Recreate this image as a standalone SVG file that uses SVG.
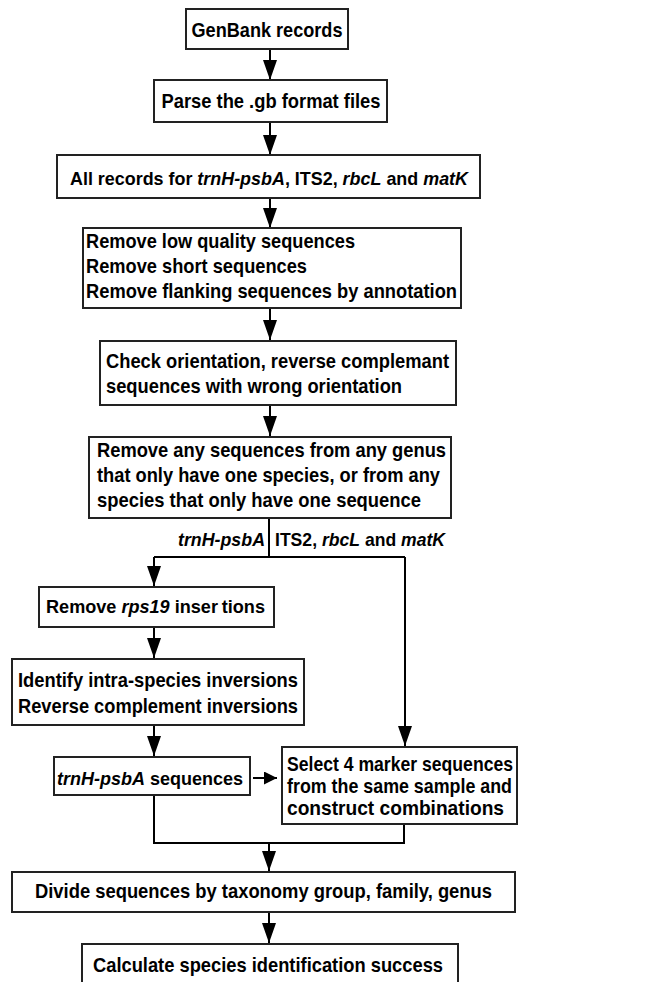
<svg xmlns="http://www.w3.org/2000/svg" width="648" height="982" viewBox="0 0 648 982">
<defs>
<style>
.box{fill:#fff;stroke:#222;stroke-width:2}
.t{font-family:"Liberation Sans",Arial,sans-serif;font-weight:bold;font-size:21px;fill:#000}
.m{font-size:19px}
.c{text-anchor:middle}
.i{font-style:italic}
.ln{fill:none;stroke:#000;stroke-width:2}
.ar{fill:none;stroke:#000;stroke-width:2;marker-end:url(#ah)}
.ars{fill:none;stroke:#000;stroke-width:2;marker-end:url(#ahs)}
</style>
<marker id="ah" viewBox="0 0 20 14" refX="20" refY="7" markerWidth="20" markerHeight="14" markerUnits="userSpaceOnUse" orient="auto">
<path d="M0,0 L20,7 L0,14 z" fill="#000"/>
</marker>
<marker id="ahs" viewBox="0 0 13 13" refX="13" refY="6.5" markerWidth="13" markerHeight="13" markerUnits="userSpaceOnUse" orient="auto">
<path d="M0,0 L13,6.5 L0,13 z" fill="#000"/>
</marker>
</defs>
<g id="connectors">
<path class="ar" d="M270,49 V80"/>
<path class="ar" d="M270,122 V155"/>
<path class="ar" d="M270,198 V228"/>
<path class="ar" d="M270,308 V340"/>
<path class="ar" d="M270,405 V436"/>
<path class="ln" d="M269,518 V557 M154,557 H405"/>
<path class="ar" d="M154,557 V586"/>
<path class="ar" d="M405,557 V746"/>
<path class="ar" d="M154,627 V658"/>
<path class="ar" d="M154,725 V756"/>
<path class="ars" d="M253,778 H277"/>
<path class="ln" d="M154,795 V843 H404 V824"/>
<path class="ar" d="M269,843 V871"/>
<path class="ar" d="M269,912 V943"/>
<text class="t m i" x="178" y="546" textLength="87" lengthAdjust="spacingAndGlyphs">trnH-psbA</text>
<text class="t m" x="275" y="546" textLength="170" lengthAdjust="spacingAndGlyphs">ITS2, <tspan class="i">rbcL</tspan> and <tspan class="i">matK</tspan></text>
</g>
<g id="n1">
<rect class="box" x="186" y="9" width="162" height="40"/>
<text class="t c" x="267" y="37" textLength="151" lengthAdjust="spacingAndGlyphs">GenBank records</text>
</g>
<g id="n2">
<rect class="box" x="154" y="80" width="233" height="42"/>
<text class="t c" x="271" y="108" textLength="219" lengthAdjust="spacingAndGlyphs">Parse the .gb format files</text>
</g>
<g id="n3">
<rect class="box" x="57" y="155" width="423" height="43"/>
<text class="t m" x="70" y="185" textLength="398" lengthAdjust="spacingAndGlyphs">All records for <tspan class="i">trnH-psbA</tspan>, ITS2, <tspan class="i">rbcL</tspan> and <tspan class="i">matK</tspan></text>
</g>
<g id="n4">
<rect class="box" x="83" y="228" width="378" height="80"/>
<text class="t" x="86" y="248" textLength="269" lengthAdjust="spacingAndGlyphs">Remove low quality sequences</text>
<text class="t" x="86" y="273" textLength="221" lengthAdjust="spacingAndGlyphs">Remove short sequences</text>
<text class="t" x="86" y="298" textLength="371" lengthAdjust="spacingAndGlyphs">Remove flanking sequences by annotation</text>
</g>
<g id="n5">
<rect class="box" x="100" y="341" width="356" height="64"/>
<text class="t" x="106" y="368" textLength="343" lengthAdjust="spacingAndGlyphs">Check orientation, reverse complemant</text>
<text class="t" x="106" y="393" textLength="296" lengthAdjust="spacingAndGlyphs">sequences with wrong orientation</text>
</g>
<g id="n6">
<rect class="box" x="89" y="437" width="362" height="81"/>
<text class="t" x="97" y="457" textLength="349" lengthAdjust="spacingAndGlyphs">Remove any sequences from any genus</text>
<text class="t" x="97" y="482" textLength="343" lengthAdjust="spacingAndGlyphs">that only have one species, or from any</text>
<text class="t" x="97" y="507" textLength="324" lengthAdjust="spacingAndGlyphs">species that only have one sequence</text>
</g>
<g id="n7">
<rect class="box" x="39" y="587" width="235" height="40"/>
<text class="t m" x="46" y="613" textLength="219" lengthAdjust="spacingAndGlyphs">Remove <tspan class="i">rps19</tspan> inser<tspan dx="4">tions</tspan></text>
</g>
<g id="n8">
<rect class="box" x="12" y="659" width="292" height="66"/>
<text class="t" x="18" y="687" textLength="280" lengthAdjust="spacingAndGlyphs">Identify intra-species inversions</text>
<text class="t" x="18" y="713" textLength="280" lengthAdjust="spacingAndGlyphs">Reverse complement inversions</text>
</g>
<g id="n9">
<rect class="box" x="54" y="757" width="196" height="38"/>
<text class="t m" x="57" y="785" textLength="186" lengthAdjust="spacingAndGlyphs"><tspan class="i">trnH-psbA</tspan> sequences</text>
</g>
<g id="n10">
<rect class="box" x="282" y="747" width="235" height="77"/>
<text class="t" x="287" y="771" textLength="226" lengthAdjust="spacingAndGlyphs">Select 4 marker sequences</text>
<text class="t" x="287" y="793" textLength="225" lengthAdjust="spacingAndGlyphs">from the same sample and</text>
<text class="t" x="287" y="815" textLength="217" lengthAdjust="spacingAndGlyphs">construct combinations</text>
</g>
<g id="n11">
<rect class="box" x="12" y="872" width="503" height="40"/>
<text class="t c" x="263.5" y="898" textLength="457" lengthAdjust="spacingAndGlyphs">Divide sequences by taxonomy group, family, genus</text>
</g>
<g id="n12">
<rect class="box" x="82" y="944" width="376" height="50"/>
<text class="t c" x="268" y="972" textLength="350" lengthAdjust="spacingAndGlyphs">Calculate species identification success</text>
</g>
</svg>
